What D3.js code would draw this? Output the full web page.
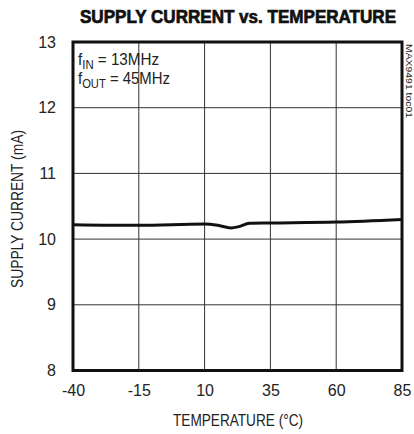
<!DOCTYPE html>
<html>
<head>
<meta charset="utf-8">
<script src="https://d3js.org/d3.v7.min.js"></script>
<style>
  body { margin: 0; background: #fff; }
  text { font-family: "Liberation Sans", Arial, sans-serif; fill: #222; }
</style>
</head>
<body>
<svg id="chart" width="414" height="434"></svg>
<script>
// data
var temps = [-40, -15, 10, 15, 20, 23, 27, 35, 60, 85];
var current = [10.22, 10.21, 10.23, 10.21, 10.17, 10.19, 10.24, 10.245, 10.26, 10.30];
var xTicks = [-40, -15, 10, 35, 60, 85];
var yTicks = [8, 9, 10, 11, 12, 13];

var svg = d3.select("#chart");
var mLeft = 73, mRight = 402, mTop = 42, mBottom = 370.5;

var x = d3.scaleLinear().domain([-40, 85]).range([mLeft, mRight]);
var y = d3.scaleLinear().domain([8, 13]).range([mBottom, mTop]);

// title
svg.append("text")
  .attr("x", 238).attr("y", 23)
  .attr("text-anchor", "middle")
  .attr("textLength", 316).attr("lengthAdjust", "spacingAndGlyphs")
  .style("font-size", "18px").style("font-weight", "bold")
  .style("fill", "#111").style("stroke", "#111").style("stroke-width", 0.7)
  .text("SUPPLY CURRENT vs. TEMPERATURE");

// grid
svg.append("g").selectAll("line").data(xTicks.slice(1, -1)).enter().append("line")
  .attr("x1", d => x(d)).attr("x2", d => x(d))
  .attr("y1", mTop).attr("y2", mBottom)
  .attr("stroke", "#333").attr("stroke-width", 1);
svg.append("g").selectAll("line").data(yTicks.slice(1, -1)).enter().append("line")
  .attr("x1", mLeft).attr("x2", mRight)
  .attr("y1", d => y(d)).attr("y2", d => y(d))
  .attr("stroke", "#333").attr("stroke-width", 1);

// frame
svg.append("rect")
  .attr("x", mLeft).attr("y", mTop)
  .attr("width", mRight - mLeft).attr("height", mBottom - mTop)
  .attr("fill", "none").attr("stroke", "#111").attr("stroke-width", 3);

// tick labels
var xAxis = d3.axisBottom(x).tickValues(xTicks).tickSize(0).tickPadding(14).tickFormat(d => String(d));
svg.append("g").attr("transform", "translate(0," + mBottom + ")").call(xAxis)
  .call(g => g.select(".domain").remove())
  .selectAll("text").style("font-size", "16px").style("font-family", "'Liberation Sans', sans-serif").attr("fill", "#222");

var yAxis = d3.axisLeft(y).tickValues(yTicks).tickSize(0).tickPadding(17).tickFormat(d => String(d));
svg.append("g").attr("transform", "translate(" + mLeft + ",0)").call(yAxis)
  .call(g => g.select(".domain").remove())
  .selectAll("text").style("font-size", "16px").style("font-family", "'Liberation Sans', sans-serif").attr("fill", "#222");

// axis titles
svg.append("text")
  .attr("x", 238).attr("y", 426)
  .attr("text-anchor", "middle")
  .attr("textLength", 130).attr("lengthAdjust", "spacingAndGlyphs")
  .style("font-size", "16px")
  .text("TEMPERATURE (°C)");

svg.append("text")
  .attr("transform", "translate(23,209) rotate(-90)")
  .attr("text-anchor", "middle")
  .attr("textLength", 158).attr("lengthAdjust", "spacingAndGlyphs")
  .style("font-size", "16px")
  .text("SUPPLY CURRENT (mA)");

// conditions
var note = svg.append("g").style("font-size", "16px");
var t1 = note.append("text").attr("x", 78).attr("y", 65)
  .attr("textLength", 81).attr("lengthAdjust", "spacingAndGlyphs");
t1.append("tspan").text("f");
t1.append("tspan").attr("dy", 4).style("font-size", "12px").text("IN");
t1.append("tspan").attr("dy", -4).text(" = 13MHz");
var t2 = note.append("text").attr("x", 78).attr("y", 84)
  .attr("textLength", 92).attr("lengthAdjust", "spacingAndGlyphs");
t2.append("tspan").text("f");
t2.append("tspan").attr("dy", 4).style("font-size", "12px").text("OUT");
t2.append("tspan").attr("dy", -4).text(" = 45MHz");

svg.append("text")
  .attr("transform", "translate(406,44) rotate(90)")
  .attr("textLength", 74).attr("lengthAdjust", "spacingAndGlyphs")
  .style("font-size", "9px")
  .text("MAX9491 toc01");

// curve
svg.append("path")
  .datum(temps.map((t, i) => [t, current[i]]))
  .attr("d", d3.line().x(d => x(d[0])).y(d => y(d[1])).curve(d3.curveMonotoneX))
  .attr("fill", "none").attr("stroke", "#111").attr("stroke-width", 3);
</script>
</body>
</html>
